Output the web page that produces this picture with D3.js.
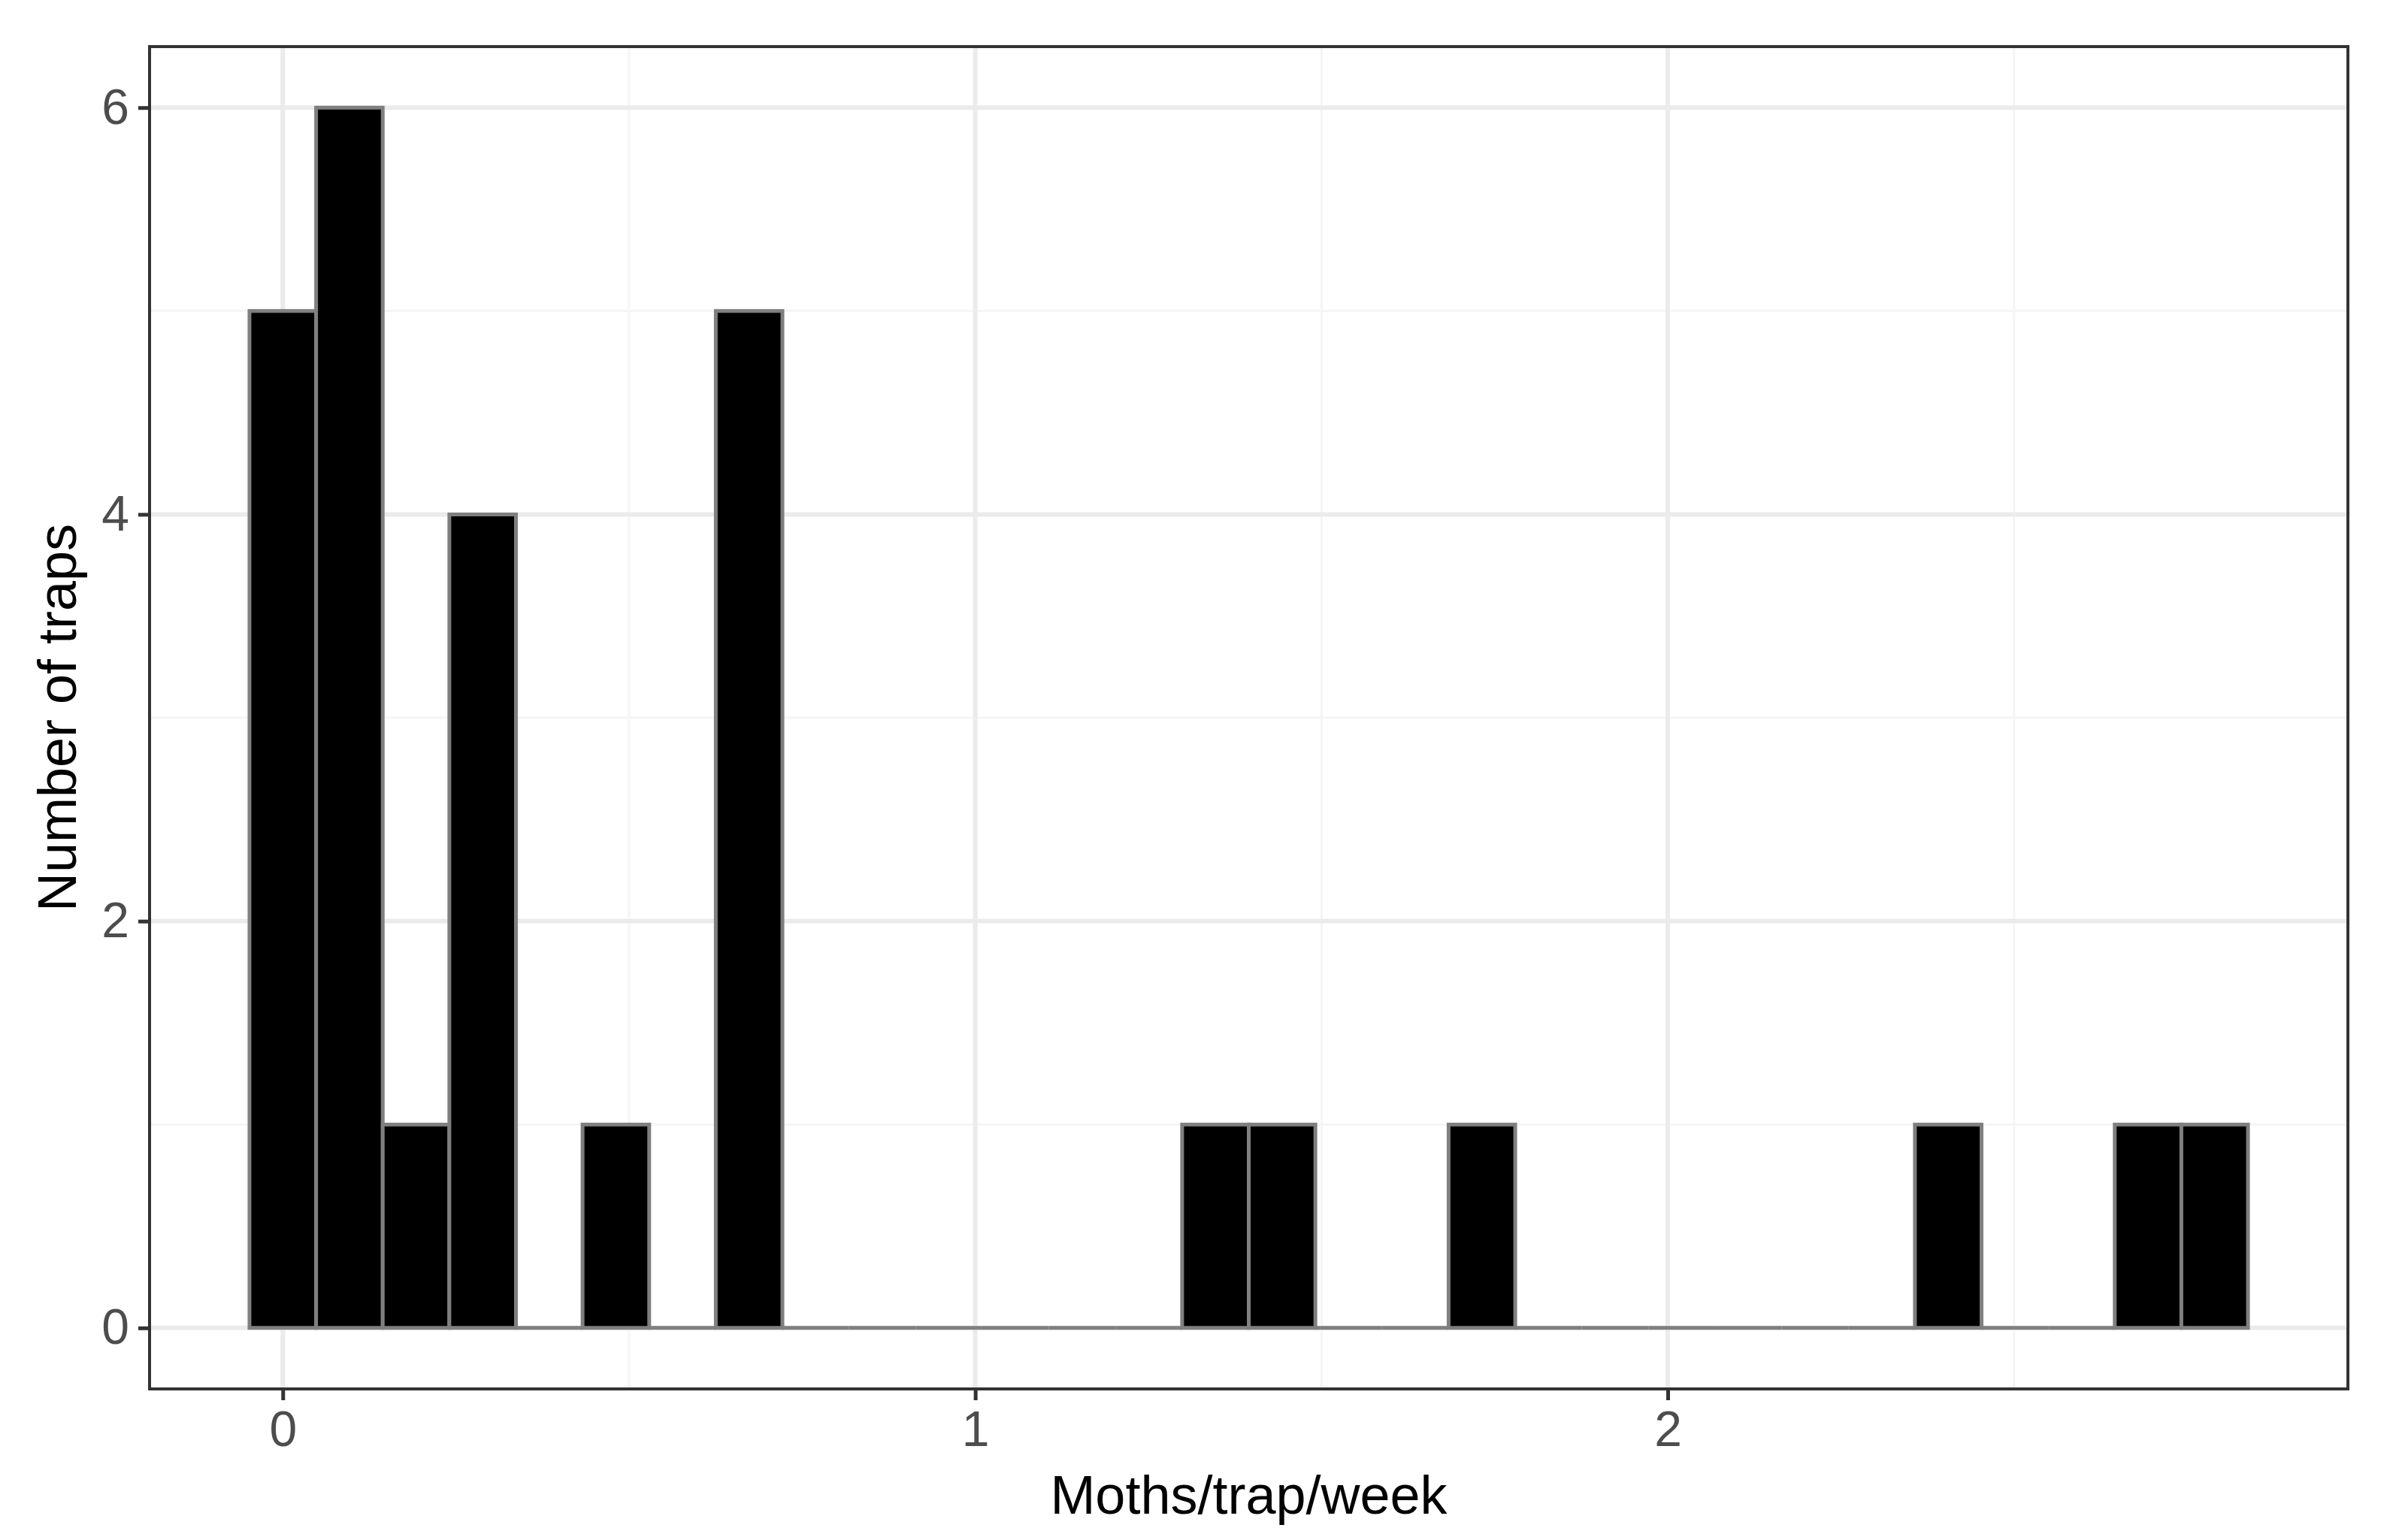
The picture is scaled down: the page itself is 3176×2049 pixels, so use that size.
<!DOCTYPE html>
<html>
<head>
<meta charset="utf-8">
<script src="https://cdn.jsdelivr.net/npm/d3@7"></script>
<style>
  html, body { margin: 0; padding: 0; background: #ffffff; }
  svg { display: block; }
</style>
</head>
<body>
<svg id="chart" width="3176" height="2049"></svg>
<script>
// ---- data ----
const binWidth = 0.0962;
const binCenters = [0, 0.0962, 0.1924, 0.2886, 0.3848, 0.481, 0.5772, 0.6734, 0.7696, 0.8658,
  0.962, 1.0582, 1.1544, 1.2506, 1.3468, 1.443, 1.5392, 1.6354, 1.7316, 1.8278,
  1.924, 2.0202, 2.1164, 2.2126, 2.3088, 2.405, 2.5012, 2.5974, 2.6936, 2.7898];
const counts = [5, 6, 1, 4, 0, 1, 0, 5, 0, 0,
  0, 0, 0, 0, 1, 1, 0, 0, 1, 0,
  0, 0, 0, 0, 0, 1, 0, 0, 1, 1];
const xTicks = [0, 1, 2];
const xMinorTicks = [0.5, 1.5, 2.5];
const yTicks = [0, 2, 4, 6];
const yMinorTicks = [1, 3, 5];
const xTitle = "Moths/trap/week";
const yTitle = "Number of traps";

const bins = binCenters.map((c, i) => ({ x0: c - binWidth / 2, x1: c + binWidth / 2, n: counts[i] }));

// ---- layout ----
const panel = { left: 199, right: 3124, top: 62, bottom: 1848 };
const svg = d3.select("#chart");

const xLo = d3.min(bins, d => d.x0), xHi = d3.max(bins, d => d.x1);
const xPad = (xHi - xLo) * 0.05;
const x = d3.scaleLinear().domain([xLo - xPad, xHi + xPad]).range([panel.left, panel.right]);
const yMax = d3.max(counts);
const y = d3.scaleLinear().domain([-0.05 * yMax, yMax * 1.05]).range([panel.bottom, panel.top]);

const font = "'Liberation Sans', Arial, Helvetica, sans-serif";

// panel background
svg.append("rect").attr("x", panel.left).attr("y", panel.top)
  .attr("width", panel.right - panel.left).attr("height", panel.bottom - panel.top)
  .attr("fill", "#ffffff");

const grid = svg.append("g");
// minor grid
grid.selectAll(".xmin").data(xMinorTicks).enter().append("line")
  .attr("x1", d => x(d)).attr("x2", d => x(d)).attr("y1", panel.top).attr("y2", panel.bottom)
  .attr("stroke", "#f5f5f5").attr("stroke-width", 3);
grid.selectAll(".ymin").data(yMinorTicks).enter().append("line")
  .attr("y1", d => y(d)).attr("y2", d => y(d)).attr("x1", panel.left).attr("x2", panel.right)
  .attr("stroke", "#f5f5f5").attr("stroke-width", 3);
// major grid
grid.selectAll(".xmaj").data(xTicks).enter().append("line")
  .attr("x1", d => x(d)).attr("x2", d => x(d)).attr("y1", panel.top).attr("y2", panel.bottom)
  .attr("stroke", "#ebebeb").attr("stroke-width", 6);
grid.selectAll(".ymaj").data(yTicks).enter().append("line")
  .attr("y1", d => y(d)).attr("y2", d => y(d)).attr("x1", panel.left).attr("x2", panel.right)
  .attr("stroke", "#ebebeb").attr("stroke-width", 6);

// bars (drawn as closed paths so zero-count bins still show their outline on the baseline)
svg.append("g").selectAll("path").data(bins).enter().append("path")
  .attr("d", d => {
    const p = d3.path();
    p.moveTo(x(d.x0), y(0));
    p.lineTo(x(d.x0), y(d.n));
    p.lineTo(x(d.x1), y(d.n));
    p.lineTo(x(d.x1), y(0));
    p.closePath();
    return p.toString();
  })
  .attr("fill", "#000000")
  .attr("stroke", "#7f7f7f")
  .attr("stroke-width", 5)
  .attr("stroke-linejoin", "miter");

// axes (ticks + labels)
const xAxis = d3.axisBottom(x).tickValues(xTicks).tickFormat(d3.format("d")).tickSize(15).tickPadding(14);
const gx = svg.append("g").attr("transform", `translate(0,${panel.bottom})`).call(xAxis);
gx.select(".domain").remove();
gx.selectAll(".tick line").attr("stroke", "#333333").attr("stroke-width", 5);
gx.selectAll(".tick text").attr("fill", "#4d4d4d").attr("font-family", font).attr("font-size", 66);

const yAxis = d3.axisLeft(y).tickValues(yTicks).tickFormat(d3.format("d")).tickSize(15).tickPadding(12);
const gy = svg.append("g").attr("transform", `translate(${panel.left},0)`).call(yAxis);
gy.select(".domain").remove();
gy.selectAll(".tick line").attr("stroke", "#333333").attr("stroke-width", 5);
gy.selectAll(".tick text").attr("fill", "#4d4d4d").attr("font-family", font).attr("font-size", 66);

// panel border
svg.append("rect").attr("x", panel.left).attr("y", panel.top)
  .attr("width", panel.right - panel.left).attr("height", panel.bottom - panel.top)
  .attr("fill", "none").attr("stroke", "#333333").attr("stroke-width", 4);

// titles
svg.append("text").attr("x", (panel.left + panel.right) / 2).attr("y", 2014)
  .attr("text-anchor", "middle").attr("font-family", font).attr("font-size", 72)
  .attr("fill", "#000000").text(xTitle);
svg.append("text")
  .attr("transform", `translate(101,${(panel.top + panel.bottom) / 2}) rotate(-90)`)
  .attr("text-anchor", "middle").attr("font-family", font).attr("font-size", 72)
  .attr("fill", "#000000").text(yTitle);
</script>
</body>
</html>
